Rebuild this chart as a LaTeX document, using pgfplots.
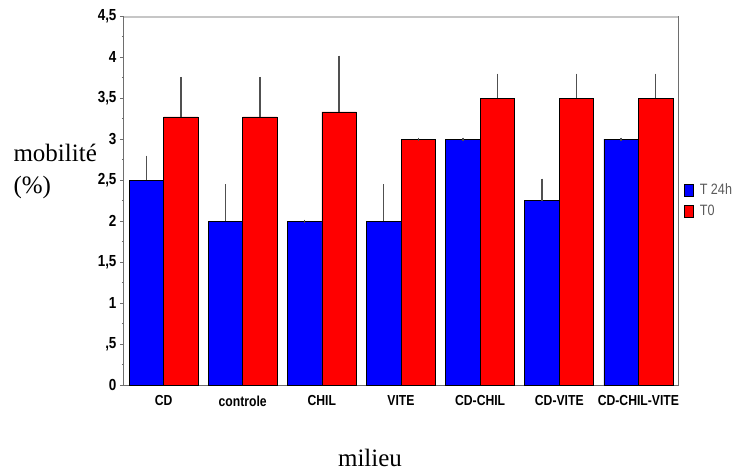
\documentclass[border=0pt]{standalone}
\usepackage{pgfplots}
\pgfplotsset{compat=1.18}
\usepackage{fontspec}
\setmainfont{Liberation Serif}
\newfontfamily\tickfont[FakeStretch=0.84]{Liberation Sans}

\definecolor{barblue}{RGB}{0,0,255}
\definecolor{barred}{RGB}{255,0,0}
\definecolor{axgray}{RGB}{110,110,110}
\definecolor{errgray}{RGB}{80,80,80}
\definecolor{legtext}{RGB}{90,90,90}

\begin{document}
\begin{tikzpicture}
\useasboundingbox (-124pt,-87pt) rectangle (613pt,385pt);
\begin{axis}[
    scale only axis,
    width=554pt, height=369pt,
    xmin=-0.5, xmax=6.5,
    ymin=0, ymax=4.5,
    ybar=0pt, bar width=34.5pt,
    axis line style={axgray, line width=1pt},
    xtick={0,...,6},
    xticklabels={CD,controle,CHIL,VITE,CD-CHIL,CD-VITE,CD-CHIL-VITE},
    x tick label style={font=\tickfont\bfseries\fontsize{14.5}{14.5}\selectfont, yshift=-3pt},
    ytick={0,0.5,...,4.5},
    yticklabels={0,{,5},1,{1,5},2,{2,5},3,{3,5},4,{4,5}},
    y tick label style={font=\tickfont\bfseries\fontsize{16}{16}\selectfont},
    ytick pos=left,
    minor y tick num=1,
    tick align=outside,
    x tick style={draw=none},
    y tick style={axgray, line width=0.8pt},
    major tick length=4pt, minor tick length=2pt,
    legend cell align=left,
    legend style={at={(1,0.5)}, anchor=west, xshift=4pt, draw=none, fill=none,
        font=\tickfont\fontsize{15}{15}\selectfont,
        row sep=5pt, inner sep=2pt},
    legend image code/.code={\draw[#1, draw=black] (0pt,-6pt) rectangle (9pt,6pt);
        \path (13pt,0pt);},
    error bars/y dir=plus,
    error bars/y explicit,
    error bars/error bar style={errgray, line width=1.4pt},
    error bars/error mark options={errgray, mark size=1.5pt, line width=1.4pt},
]
\addplot[fill=barblue, draw=black, line width=0.6pt] coordinates {
    (0,2.5) +- (0,0.28)
    (1,2.0) +- (0,0.43)
    (2,2.0) +- (0,0)
    (3,2.0) +- (0,0.43)
    (4,3.0) +- (0,0)
    (5,2.25) +- (0,0.25)
    (6,3.0) +- (0,0)
};
\addlegendentry{\textcolor{legtext}{T 24h}}
\addplot[fill=barred, draw=black, line width=0.6pt] coordinates {
    (0,3.27) +- (0,0.47)
    (1,3.27) +- (0,0.47)
    (2,3.33) +- (0,0.67)
    (3,3.0) +- (0,0)
    (4,3.5) +- (0,0.28)
    (5,3.5) +- (0,0.28)
    (6,3.5) +- (0,0.28)
};
\addlegendentry{\textcolor{legtext}{T0}}
\draw[gray!45, line width=3pt] (rel axis cs:0,1) -- (rel axis cs:1,1);
\end{axis}
\node[anchor=base west, align=left, font=\fontsize{25}{31}\selectfont] at (-114pt,192pt) {mobilité\\(\%)};
\node[anchor=base, font=\fontsize{25}{25}\selectfont] at (246pt,-81pt) {milieu};
\end{tikzpicture}
\end{document}
